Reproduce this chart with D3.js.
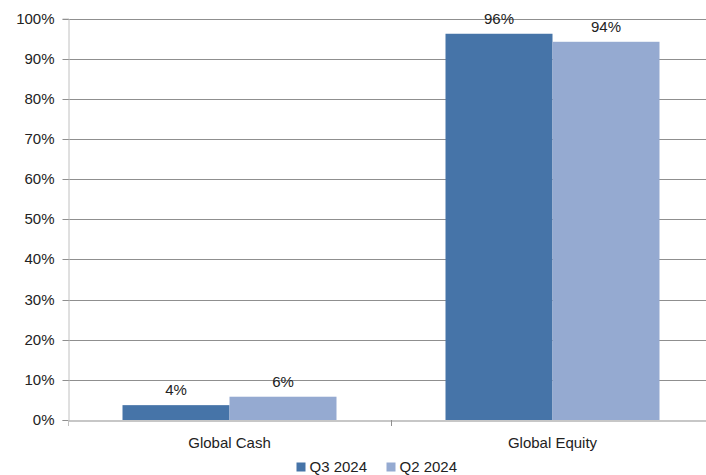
<!DOCTYPE html>
<html><head><meta charset="utf-8">
<script src="https://cdn.jsdelivr.net/npm/d3@7"></script>
<style>body{margin:0;background:#fff}svg{display:block}text{font-family:"Liberation Sans",Arial,sans-serif;fill:#222}</style>
</head><body><svg id="c" width="706" height="475"></svg>
<script>
const categories = ["Global Cash", "Global Equity"];
const seriesNames = ["Q3 2024", "Q2 2024"];
const q3Values = [3.7, 96.2];
const q2Values = [5.8, 94.2];
const valueLabels = [["4%", "6%"], ["96%", "94%"]];
const yTicks = [0,10,20,30,40,50,60,70,80,90,100];
const colors = ["#4674A8", "#95AAD1"];

(function(){
const svg = d3.select("#c");
const pLeft = 68, pRight = 714, pTop = 18.5, pBottom = 420;
const x = d3.scaleBand().domain(categories).range([pLeft, pRight]).padding(0);
const inner = d3.scaleBand().domain(seriesNames).range([54.5, 268.5]).padding(0);
const y = d3.scaleLinear().domain([0, 100]).range([pBottom, pTop]);

// gridlines
svg.append("g").selectAll("line").data(yTicks.filter(t => t > 0)).join("line")
  .attr("x1", pLeft).attr("x2", pRight).attr("y1", d => Math.round(y(d)) + 0.5).attr("y2", d => Math.round(y(d)) + 0.5)
  .attr("stroke", "#8f8f8f").attr("stroke-width", 1);

// y axis
const yAxis = d3.axisLeft(y).tickValues(yTicks).tickFormat(d => d + "%").tickSize(6).tickPadding(8);
const gy = svg.append("g").attr("transform", `translate(${pLeft + 0.5},0)`).call(yAxis);
gy.select(".domain").attr("stroke", "#c0c0c0");
gy.selectAll(".tick line").attr("stroke", "#8f8f8f");
gy.selectAll(".tick text").style("font-size", "15px").attr("fill", "#222");
gy.selectAll(".tick").attr("transform", d => `translate(0,${Math.round(y(d)) + 0.5})`);

// bars
const data = categories.map((c, i) => ({cat: c, vals: [q3Values[i], q2Values[i]], labels: valueLabels[i]}));
const groups = svg.append("g").selectAll("g").data(data).join("g")
  .attr("transform", d => `translate(${x(d.cat)},0)`);
groups.selectAll("rect").data(d => d.vals.map((v, j) => ({s: seriesNames[j], v, j}))).join("rect")
  .attr("x", d => inner(d.s)).attr("width", inner.bandwidth())
  .attr("y", d => y(d.v)).attr("height", d => y(0) - y(d.v))
  .attr("fill", d => colors[d.j]);
groups.selectAll("text").data(d => d.vals.map((v, j) => ({s: seriesNames[j], v, l: d.labels[j]}))).join("text")
  .attr("x", d => inner(d.s) + inner.bandwidth() / 2).attr("y", d => y(d.v) - 15)
  .attr("text-anchor", "middle").attr("dy", "0.35em").style("font-size", "15px").text(d => d.l);

// x axis
const xAxis = d3.axisBottom(x).tickSize(0).tickPadding(0).tickFormat(() => "");
const gx = svg.append("g").attr("transform", `translate(0,${pBottom + 0.5})`).call(xAxis);
gx.select(".domain").attr("stroke", "#8f8f8f");
gx.selectAll(".tick").remove();
svg.append("g").selectAll("line").data(categories.slice(1)).join("line")
  .attr("x1", d => Math.round(x(d)) + 0.5).attr("x2", d => Math.round(x(d)) + 0.5)
  .attr("y1", pBottom).attr("y2", pBottom + 6).attr("stroke", "#8f8f8f");
svg.append("line").attr("x1", pLeft + 0.5).attr("x2", pLeft + 0.5).attr("y1", pBottom).attr("y2", pBottom + 6).attr("stroke", "#c0c0c0");
svg.append("g").selectAll("text").data(categories).join("text")
  .attr("x", d => x(d) + x.bandwidth() / 2).attr("y", 443).attr("dy", "0.35em")
  .attr("text-anchor", "middle").style("font-size", "15px").text(d => d);

// legend
const legendX = [296.5, 386.5];
const lg = svg.append("g").selectAll("g").data(seriesNames).join("g")
  .attr("transform", (d, i) => `translate(${legendX[i]},462.5)`);
lg.append("rect").attr("width", 9).attr("height", 9).attr("fill", (d, i) => colors[i]);
lg.append("text").attr("x", 13).attr("y", 4.5).attr("dy", "0.35em").style("font-size", "15px").text(d => d);
})();
</script></body></html>
